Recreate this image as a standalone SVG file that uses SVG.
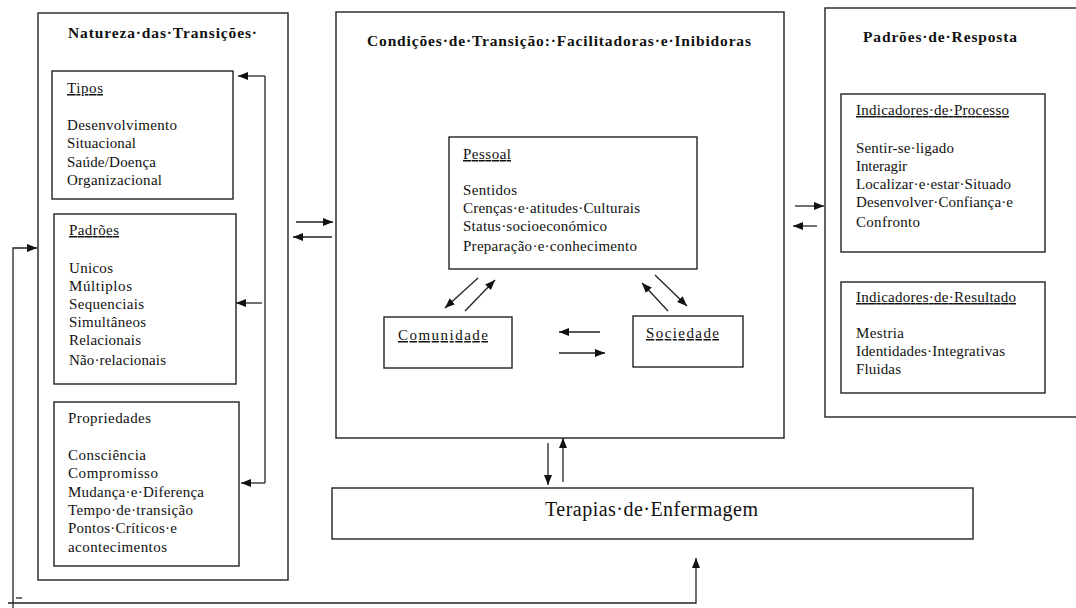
<svg xmlns="http://www.w3.org/2000/svg" width="1076" height="608" viewBox="0 0 1076 608">
<style>
.box{fill:#fff;stroke:#222;stroke-width:1.4}
.t{font-family:"Liberation Serif","Times New Roman",serif;font-size:15px;fill:#111}
.h{font-family:"Liberation Serif","Times New Roman",serif;font-size:15.5px;font-weight:bold;fill:#111}
.big{font-family:"Liberation Serif","Times New Roman",serif;font-size:20px;fill:#111}
.u{text-decoration:underline}
.c{fill:none;stroke:#222;stroke-width:1.3}
.a{marker-end:url(#arr)}
</style>
<defs>
<marker id="arr" markerUnits="userSpaceOnUse" markerWidth="10" markerHeight="8" refX="10" refY="4" orient="auto">
<path d="M0,0 L10,4 L0,8 z" fill="#111"/>
</marker>
</defs>
<rect width="1076" height="608" fill="#fff"/>

<g id="natureza">
<rect class="box" x="38" y="13" width="250" height="567"/>
<text class="h" x="68" y="38" textLength="189" lengthAdjust="spacing">Natureza·das·Transições·</text>
</g>
<g id="tipos">
<rect class="box" x="52" y="71" width="181" height="128"/>
<text class="t u" x="67" y="93" textLength="36" lengthAdjust="spacing">Tipos</text>
<text class="t" x="67" y="130" textLength="110" lengthAdjust="spacing">Desenvolvimento</text>
<text class="t" x="67" y="148" textLength="69" lengthAdjust="spacing">Situacional</text>
<text class="t" x="67" y="167" textLength="89" lengthAdjust="spacing">Saúde/Doença</text>
<text class="t" x="67" y="185" textLength="95" lengthAdjust="spacing">Organizacional</text>
</g>
<g id="padroes">
<rect class="box" x="54" y="214" width="182" height="170"/>
<text class="t u" x="69" y="235" textLength="50" lengthAdjust="spacing">Padrões</text>
<text class="t" x="69" y="273" textLength="44" lengthAdjust="spacing">Unicos</text>
<text class="t" x="69" y="291" textLength="63" lengthAdjust="spacing">Múltiplos</text>
<text class="t" x="69" y="309" textLength="75" lengthAdjust="spacing">Sequenciais</text>
<text class="t" x="69" y="327" textLength="77" lengthAdjust="spacing">Simultâneos</text>
<text class="t" x="69" y="345" textLength="72" lengthAdjust="spacing">Relacionais</text>
<text class="t" x="69" y="365" textLength="97" lengthAdjust="spacing">Não·relacionais</text>
</g>
<g id="propriedades">
<rect class="box" x="54" y="402" width="185" height="164"/>
<text class="t" x="68" y="423" textLength="83" lengthAdjust="spacing">Propriedades</text>
<text class="t" x="68" y="460" textLength="78" lengthAdjust="spacing">Consciência</text>
<text class="t" x="68" y="478" textLength="90" lengthAdjust="spacing">Compromisso</text>
<text class="t" x="68" y="497" textLength="136" lengthAdjust="spacing">Mudança·e·Diferença</text>
<text class="t" x="68" y="515" textLength="125" lengthAdjust="spacing">Tempo·de·transição</text>
<text class="t" x="68" y="533" textLength="109" lengthAdjust="spacing">Pontos·Críticos·e</text>
<text class="t" x="68" y="552" textLength="99" lengthAdjust="spacing">acontecimentos</text>
</g>

<g id="condicoes">
<rect class="box" x="336" y="12" width="448" height="426"/>
<text class="h" x="367" y="46" textLength="384" lengthAdjust="spacing">Condições·de·Transição:·Facilitadoras·e·Inibidoras</text>
</g>
<g id="pessoal">
<rect class="box" x="449" y="137" width="248" height="132"/>
<text class="t u" x="463" y="159" textLength="48" lengthAdjust="spacing">Pessoal</text>
<text class="t" x="463" y="195" textLength="54" lengthAdjust="spacing">Sentidos</text>
<text class="t" x="463" y="213" textLength="177" lengthAdjust="spacing">Crenças·e·atitudes·Culturais</text>
<text class="t" x="463" y="231" textLength="144" lengthAdjust="spacing">Status·socioeconómico</text>
<text class="t" x="463" y="251" textLength="174" lengthAdjust="spacing">Preparação·e·conhecimento</text>
</g>
<g id="comunidade">
<rect class="box" x="384" y="317" width="128" height="51"/>
<text class="t u" x="398" y="340" textLength="90" lengthAdjust="spacing">Comunidade</text>
</g>
<g id="sociedade">
<rect class="box" x="633" y="316" width="110" height="51"/>
<text class="t u" x="646" y="338" textLength="73" lengthAdjust="spacing">Sociedade</text>
</g>

<g id="terapias">
<rect class="box" x="332" y="488" width="641" height="51"/>
<text class="big" x="545" y="516" textLength="213" lengthAdjust="spacing">Terapias·de·Enfermagem</text>
</g>

<g id="resposta">
<rect class="box" x="825" y="8" width="270" height="409"/>
<text class="h" x="863" y="42" textLength="154" lengthAdjust="spacing">Padrões·de·Resposta</text>
</g>
<g id="processo">
<rect class="box" x="841" y="94" width="204" height="158"/>
<text class="t u" x="856" y="115" textLength="153" lengthAdjust="spacing">Indicadores·de·Processo</text>
<text class="t" x="856" y="153" textLength="98" lengthAdjust="spacing">Sentir-se·ligado</text>
<text class="t" x="856" y="171" textLength="51" lengthAdjust="spacing">Interagir</text>
<text class="t" x="856" y="189" textLength="155" lengthAdjust="spacing">Localizar·e·estar·Situado</text>
<text class="t" x="856" y="207" textLength="157" lengthAdjust="spacing">Desenvolver·Confiança·e</text>
<text class="t" x="856" y="227" textLength="64" lengthAdjust="spacing">Confronto</text>
</g>
<g id="resultado">
<rect class="box" x="841" y="282" width="204" height="111"/>
<text class="t u" x="856" y="302" textLength="160" lengthAdjust="spacing">Indicadores·de·Resultado</text>
<text class="t" x="856" y="338" textLength="48" lengthAdjust="spacing">Mestria</text>
<text class="t" x="856" y="356" textLength="149" lengthAdjust="spacing">Identidades·Integrativas</text>
<text class="t" x="856" y="374" textLength="45" lengthAdjust="spacing">Fluidas</text>
</g>

<g id="connectors">
<path class="c" d="M265,76 L265,483"/>
<path class="c a" d="M265,76 L238,76"/>
<path class="c a" d="M265,483 L241,483"/>
<path class="c a" d="M262,303 L236,303"/>
<path class="c a" d="M296,222 L333,222"/>
<path class="c a" d="M332,237 L293,237"/>
<path class="c a" d="M795,206 L824,206"/>
<path class="c a" d="M817,226 L793,226"/>
<path class="c a" d="M478,278 L445,308"/>
<path class="c a" d="M465,311 L495,280"/>
<path class="c a" d="M655,275 L687,306"/>
<path class="c a" d="M668,311 L642,283"/>
<path class="c a" d="M600,332 L559,332"/>
<path class="c a" d="M559,353 L605,353"/>
<path class="c a" d="M548,443 L548,485"/>
<path class="c a" d="M563,482 L563,438"/>
<path class="c a" d="M8,603 L696,603 L696,558"/>
<path class="c a" d="M13,608 L13,248 L37,248"/>
<path class="c" d="M16,598 L22,598"/>
</g>
</svg>
